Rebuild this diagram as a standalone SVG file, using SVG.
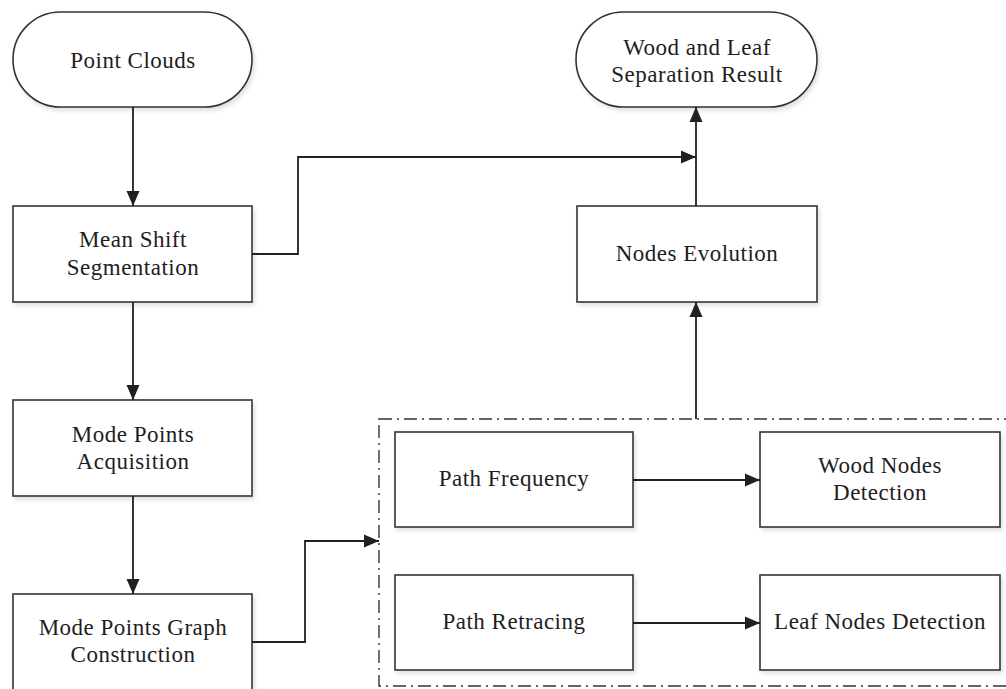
<svg xmlns="http://www.w3.org/2000/svg" width="1006" height="689" viewBox="0 0 1006 689">
<defs>
<marker id="arr" markerUnits="userSpaceOnUse" markerWidth="15" markerHeight="14" refX="15" refY="7" orient="auto">
<path d="M0,0.5 L15,7 L0,13.5 Z" fill="#231f20"/>
</marker>
<filter id="sh" x="-5%" y="-5%" width="115%" height="120%">
<feDropShadow dx="2" dy="3" stdDeviation="2" flood-color="#000" flood-opacity="0.12"/>
</filter>
<style>
.box{fill:#fff;stroke:#333;stroke-width:1.6;filter:url(#sh)}
.lbl{font-family:"Liberation Serif","Times New Roman",serif;font-size:23px;letter-spacing:0.5px;fill:#1e1e1e;text-anchor:middle}
.con{fill:none;stroke:#231f20;stroke-width:1.8}
.frame{fill:none;stroke:#333;stroke-width:1.4;stroke-dasharray:13,5,2,5}
</style>
</defs>
<rect width="1006" height="689" fill="#fff"/>

<g id="group-frame">
<rect class="frame" x="379" y="419" width="630" height="267"/>
</g>

<g id="node-point-clouds">
<rect class="box" x="13" y="12" width="239" height="95" rx="47.5" ry="47.5"/>
<text class="lbl" x="133" y="68">Point Clouds</text>
</g>

<g id="node-mean-shift">
<rect class="box" x="13" y="206" width="239" height="96"/>
<text class="lbl" x="133" y="247">Mean Shift</text>
<text class="lbl" x="133" y="275">Segmentation</text>
</g>

<g id="node-mode-points-acq">
<rect class="box" x="13" y="400" width="239" height="96"/>
<text class="lbl" x="133" y="442">Mode Points</text>
<text class="lbl" x="133" y="469">Acquisition</text>
</g>

<g id="node-mode-points-graph">
<rect class="box" x="13" y="594" width="239" height="100"/>
<text class="lbl" x="133" y="635">Mode Points Graph</text>
<text class="lbl" x="133" y="662">Construction</text>
</g>

<g id="node-result">
<rect class="box" x="576" y="12" width="241" height="95" rx="47.5" ry="47.5"/>
<text class="lbl" x="697" y="55">Wood and Leaf</text>
<text class="lbl" x="697" y="82">Separation Result</text>
</g>

<g id="node-nodes-evolution">
<rect class="box" x="577" y="206" width="240" height="96"/>
<text class="lbl" x="697" y="261">Nodes Evolution</text>
</g>

<g id="node-path-frequency">
<rect class="box" x="395" y="432" width="238" height="95"/>
<text class="lbl" x="514" y="486">Path Frequency</text>
</g>

<g id="node-wood-nodes">
<rect class="box" x="760" y="432" width="240" height="95"/>
<text class="lbl" x="880" y="473">Wood Nodes</text>
<text class="lbl" x="880" y="500">Detection</text>
</g>

<g id="node-path-retracing">
<rect class="box" x="395" y="575" width="238" height="95"/>
<text class="lbl" x="514" y="629">Path Retracing</text>
</g>

<g id="node-leaf-nodes">
<rect class="box" x="760" y="575" width="240" height="95"/>
<text class="lbl" x="880" y="629">Leaf Nodes Detection</text>
</g>

<g id="connectors">
<path class="con" d="M133,107 V206" marker-end="url(#arr)"/>
<path class="con" d="M133,302 V400" marker-end="url(#arr)"/>
<path class="con" d="M133,496 V594" marker-end="url(#arr)"/>
<path class="con" d="M252,254 H298 V157 H696" marker-end="url(#arr)"/>
<path class="con" d="M696,206 V107" marker-end="url(#arr)"/>
<path class="con" d="M696,419 V302" marker-end="url(#arr)"/>
<path class="con" d="M252,642 H305 V541 H379" marker-end="url(#arr)"/>
<path class="con" d="M633,480 H760" marker-end="url(#arr)"/>
<path class="con" d="M633,623 H760" marker-end="url(#arr)"/>
</g>
</svg>
